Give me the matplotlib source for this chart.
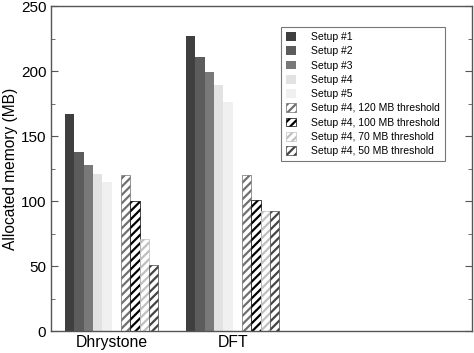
import matplotlib
matplotlib.use('Agg')
import matplotlib.pyplot as plt
import numpy as np

benchmarks = ['Dhrystone', 'DFT']
series = ['Setup #1', 'Setup #2', 'Setup #3', 'Setup #4', 'Setup #5',
          'Setup #4, 120 MB threshold', 'Setup #4, 100 MB threshold',
          'Setup #4, 70 MB threshold', 'Setup #4, 50 MB threshold']
setup1 = [167, 227]
setup2 = [137.5, 211]
setup3 = [128, 199]
setup4 = [121, 189]
setup5 = [115, 176]
thr120 = [120, 120]
thr100 = [100, 101]
thr70 = [71, 92]
thr50 = [51, 92]

plt.rcParams['font.family'] = ['Liberation Sans', 'DejaVu Sans']
plt.rcParams['hatch.linewidth'] = 1.6

def draw():
  fig = plt.figure(figsize=(4.74, 3.53), dpi=100)
  ax = fig.add_axes([0.108, 0.062, 0.888, 0.921])
  values = [setup1, setup2, setup3, setup4, setup5, thr120, thr100, thr70, thr50]
  faces = ['#3f3f3f', '#5c5c5c', '#797979', '#e2e2e2', '#f0f0f0',
           'white', 'white', 'white', 'white']
  edges = ['#3f3f3f', '#5c5c5c', '#797979', '#e2e2e2', '#f0f0f0',
           '#707070', '#000000', '#c0c0c0', '#454545']
  hatches = [None] * 5 + ['////'] * 4
  slots = [0, 1, 2, 3, 4, 6, 7, 8, 9]
  w = 0.077
  x = np.arange(len(benchmarks))
  for i in range(len(series)):
    pos = x + (slots[i] - 4.5) * w
    ax.bar(pos, values[i], width=w, color=faces[i], edgecolor=edges[i],
           hatch=hatches[i], linewidth=0.5 if hatches[i] else 0, label=series[i])
  ax.set_xlim(-0.5, 2.98)
  ax.set_ylim(0, 250)
  ax.set_xticks(x)
  ax.set_xticklabels(benchmarks, fontsize=11.3)
  ax.tick_params(axis='x', length=0, pad=3)
  ax.set_yticks(np.arange(0, 251, 50))
  ax.set_yticks(np.arange(25, 250, 50), minor=True)
  ax.tick_params(axis='y', which='both', direction='in', left=True, right=True,
                 labelsize=11, color='#555555')
  ax.tick_params(axis='y', which='major', length=5)
  ax.tick_params(axis='y', which='minor', length=3)
  for s in ax.spines.values():
    s.set_color('#555555')
    s.set_linewidth(1.0)
  ax.set_ylabel('Allocated memory (MB)', fontsize=11.2, labelpad=2)
  leg = ax.legend(loc='upper left', bbox_to_anchor=(0.534, 0.952), fontsize=7.5,
                  frameon=True, fancybox=False, edgecolor='#555555',
                  handlelength=0.9, handleheight=0.9, labelspacing=0.41,
                  borderpad=0.5, handletextpad=1.5)
  leg.get_frame().set_linewidth(0.8)
  plt.savefig('out.png', dpi=100)

if __name__ == '__main__':
  draw()
